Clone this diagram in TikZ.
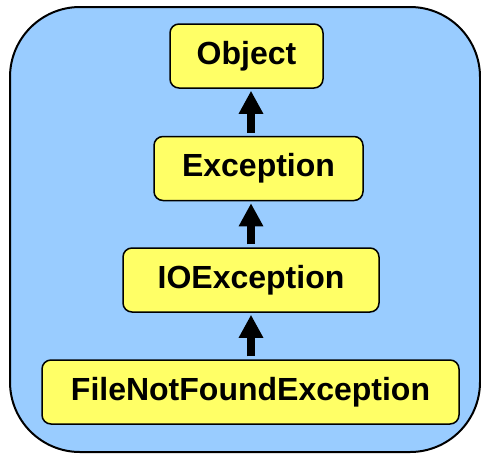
\documentclass[tikz,border=0pt]{standalone}
\usepackage{fontspec}
\setmainfont{Liberation Sans}
\usetikzlibrary{arrows.meta}
\definecolor{bgblue}{HTML}{99CCFF}
\definecolor{boxyellow}{HTML}{FFFF66}
\begin{document}
\begin{tikzpicture}[x=1pt,y=-1pt,
  classbox/.style={draw=black, line width=1.5pt, fill=boxyellow, rounded corners=9pt,
    inner sep=0pt, minimum height=64pt, font=\fontsize{32}{38}\selectfont\bfseries},
  inherit/.style={line width=8pt, -{Triangle[width=23pt,length=23pt]}, shorten >=2pt, shorten <=3pt}]
\useasboundingbox (0,0) rectangle (481,453);
\fill[white] (0,0) rectangle (481,453);
\draw[line width=2pt, fill=bgblue, rounded corners=70pt] (10,7) rectangle (480,452);
\node[classbox, minimum width=153pt] (obj) at (246.5,56) {Object};
\node[classbox, minimum width=209pt] (exc) at (258.5,168.5) {Exception};
\node[classbox, minimum width=256pt] (ioe) at (251,280) {IOException};
\node[classbox, minimum width=417pt] (fnf) at (250.5,392) {FileNotFoundException};
\coordinate (col) at (251,0);
\draw[inherit] (exc.north -| col) -- (obj.south -| col);
\draw[inherit] (ioe.north -| col) -- (exc.south -| col);
\draw[inherit] (fnf.north -| col) -- (ioe.south -| col);
\end{tikzpicture}
\end{document}
